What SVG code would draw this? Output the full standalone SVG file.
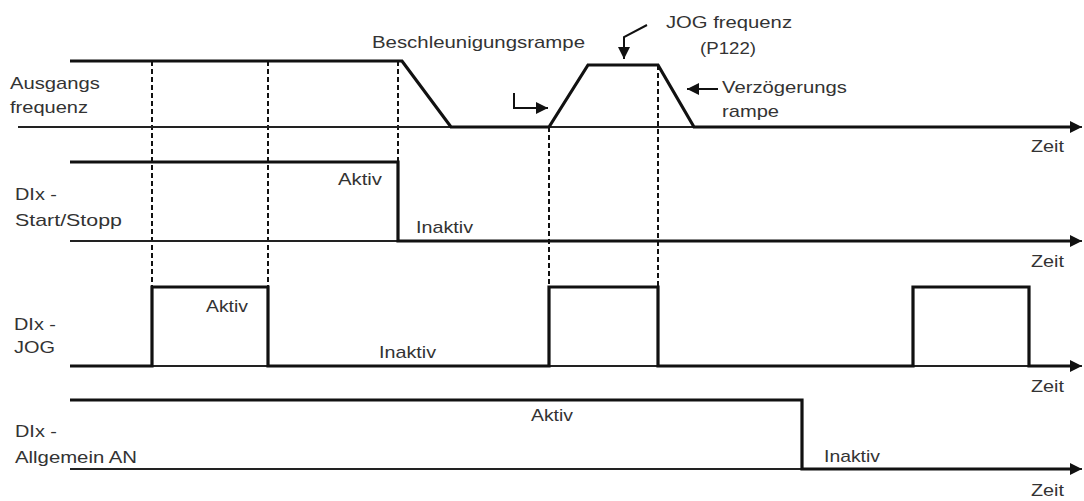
<svg xmlns="http://www.w3.org/2000/svg" width="1084" height="501" viewBox="0 0 1084 501">
<style>
.t{font-family:"Liberation Sans",Arial,sans-serif;font-size:17px;fill:#333}
.axis{fill:none;stroke:#222;stroke-width:2}
.sig{fill:none;stroke:#111;stroke-width:3.2;stroke-linejoin:miter}
.dash{fill:none;stroke:#111;stroke-width:2;stroke-dasharray:5 3}
.ptr{fill:none;stroke:#111;stroke-width:2}
</style>
<defs>
<marker id="ah" markerUnits="userSpaceOnUse" markerWidth="12" markerHeight="12" refX="10" refY="5" orient="auto" viewBox="0 0 10 10">
<path d="M0,0 L10,5 L0,10 z" fill="#111"/>
</marker>
</defs>
<rect width="1084" height="501" fill="#fff"/>

<g id="connectors">
<path class="dash" d="M152,61 V287 M268,61 V287 M398,61 V162 M549,127 V287 M658,65 V287"/>
<path class="ptr" d="M647,25 L624,37 V59" marker-end="url(#ah)"/>
<path class="ptr" d="M514,93 V108 H548" marker-end="url(#ah)"/>
<path class="ptr" d="M718,89 H687" marker-end="url(#ah)"/>
</g>

<g id="panel-ausgangsfrequenz">
<path class="axis" d="M18,127 H1082" marker-end="url(#ah)"/>
<path class="sig" d="M70,61 H402 L451,127 H549 L588,65 H658 L694,127 H1072"/>
<text class="t" x="10" y="89" textLength="90" lengthAdjust="spacingAndGlyphs">Ausgangs</text>
<text class="t" x="10" y="113" textLength="78" lengthAdjust="spacingAndGlyphs">frequenz</text>
<text class="t" x="372" y="48" textLength="213" lengthAdjust="spacingAndGlyphs">Beschleunigungsrampe</text>
<text class="t" x="666" y="28" textLength="126" lengthAdjust="spacingAndGlyphs">JOG frequenz</text>
<text class="t" x="700" y="54" textLength="56" lengthAdjust="spacingAndGlyphs">(P122)</text>
<text class="t" x="722" y="93" textLength="125" lengthAdjust="spacingAndGlyphs">Verzögerungs</text>
<text class="t" x="722" y="117" textLength="57" lengthAdjust="spacingAndGlyphs">rampe</text>
<text class="t" x="1031" y="152" textLength="33" lengthAdjust="spacingAndGlyphs">Zeit</text>
</g>

<g id="panel-start-stopp">
<path class="axis" d="M70,241 H1082" marker-end="url(#ah)"/>
<path class="sig" d="M70,162 H398 V241 H1072"/>
<text class="t" x="15" y="200" textLength="42" lengthAdjust="spacingAndGlyphs">DIx -</text>
<text class="t" x="15" y="226" textLength="107" lengthAdjust="spacingAndGlyphs">Start/Stopp</text>
<text class="t" x="338" y="185" textLength="44" lengthAdjust="spacingAndGlyphs">Aktiv</text>
<text class="t" x="416" y="233" textLength="57" lengthAdjust="spacingAndGlyphs">Inaktiv</text>
<text class="t" x="1031" y="267" textLength="33" lengthAdjust="spacingAndGlyphs">Zeit</text>
</g>

<g id="panel-jog">
<path class="axis" d="M70,366 H1082" marker-end="url(#ah)"/>
<path class="sig" d="M70,366 H152 V287 H268 V366 H549 V287 H658 V366 H913 V287 H1029 V366 H1072"/>
<text class="t" x="14" y="330" textLength="42" lengthAdjust="spacingAndGlyphs">DIx -</text>
<text class="t" x="14" y="353" textLength="41" lengthAdjust="spacingAndGlyphs">JOG</text>
<text class="t" x="206" y="312" textLength="42" lengthAdjust="spacingAndGlyphs">Aktiv</text>
<text class="t" x="379" y="358" textLength="57" lengthAdjust="spacingAndGlyphs">Inaktiv</text>
<text class="t" x="1031" y="392" textLength="33" lengthAdjust="spacingAndGlyphs">Zeit</text>
</g>

<g id="panel-allgemein-an">
<path class="axis" d="M70,469 H1082" marker-end="url(#ah)"/>
<path class="sig" d="M70,400 H802 V469 H1072"/>
<text class="t" x="15" y="437" textLength="42" lengthAdjust="spacingAndGlyphs">DIx -</text>
<text class="t" x="15" y="463" textLength="122" lengthAdjust="spacingAndGlyphs">Allgemein AN</text>
<text class="t" x="531" y="421" textLength="42" lengthAdjust="spacingAndGlyphs">Aktiv</text>
<text class="t" x="824" y="462" textLength="56" lengthAdjust="spacingAndGlyphs">Inaktiv</text>
<text class="t" x="1031" y="496" textLength="33" lengthAdjust="spacingAndGlyphs">Zeit</text>
</g>
</svg>
